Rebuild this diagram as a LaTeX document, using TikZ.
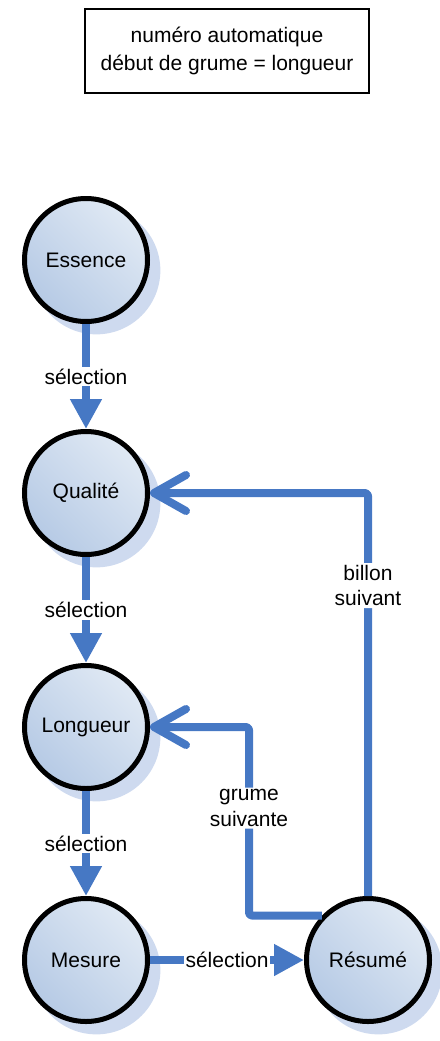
\documentclass[tikz,border=0pt]{standalone}
\usepackage{fontspec}
\setmainfont{Liberation Sans}
\usetikzlibrary{arrows.meta,shadows,calc}
\definecolor{linkc}{RGB}{70,120,196}
\definecolor{lightc}{RGB}{224,233,244}
\definecolor{darkc}{RGB}{182,202,229}
\definecolor{shadowc}{RGB}{206,218,239}
\tikzset{
  state/.style={circle, draw=black, line width=5pt, minimum size=123pt, inner sep=0pt,
    top color=lightc, bottom color=darkc, shading angle=-45,
    general shadow={fill=shadowc, shadow xshift=10pt, shadow yshift=-10pt, shadow scale=1.04},
    font=\fontsize{21}{25}\selectfont},
  link/.style={draw=linkc, line width=8pt},
  fwd/.style={link, -{Triangle[length=30pt,width=30pt]}},
  back/.style={link, rounded corners=3pt, line join=round,
    -{Straight Barb[length=32pt,width=36pt,line cap=round,line join=round]}},
  lab/.style={fill=white, inner sep=2pt, align=center, font=\fontsize{21}{25.5}\selectfont, text=black},
  note/.style={draw=black, line width=1.3pt, minimum width=284pt, minimum height=84pt,
    align=center, font=\fontsize{21}{28}\selectfont}
}
\begin{document}
\begin{tikzpicture}[x=1pt,y=-1pt]
\useasboundingbox (0,0) rectangle (439,1041);
\node[note] (info) at (227,51) {numéro automatique\\début de grume = longueur};
\node[state] (ess) at (86,260) {Essence};
\node[state] (qua) at (86,493) {Qualité};
\node[state] (lon) at (86,727) {Longueur};
\node[state] (mes) at (86,960) {Mesure};
\node[state] (res) at (368,960) {Résumé};
\coordinate (gx) at (249,727);
\draw[fwd] (ess) -- node[lab] {sélection} (qua);
\draw[fwd] (qua) -- node[lab] {sélection} (lon);
\draw[fwd] (lon) -- node[lab] {sélection} (mes);
\draw[fwd] (mes) -- node[lab] {sélection} (res);
\draw[back] (res.north) |- node[lab, pos=0.385] {billon\\suivant} (qua.east);
\draw[back] (res.136) -| node[lab, pos=0.785] {grume\\suivante} (gx) -- (lon.east);
\end{tikzpicture}
\end{document}
